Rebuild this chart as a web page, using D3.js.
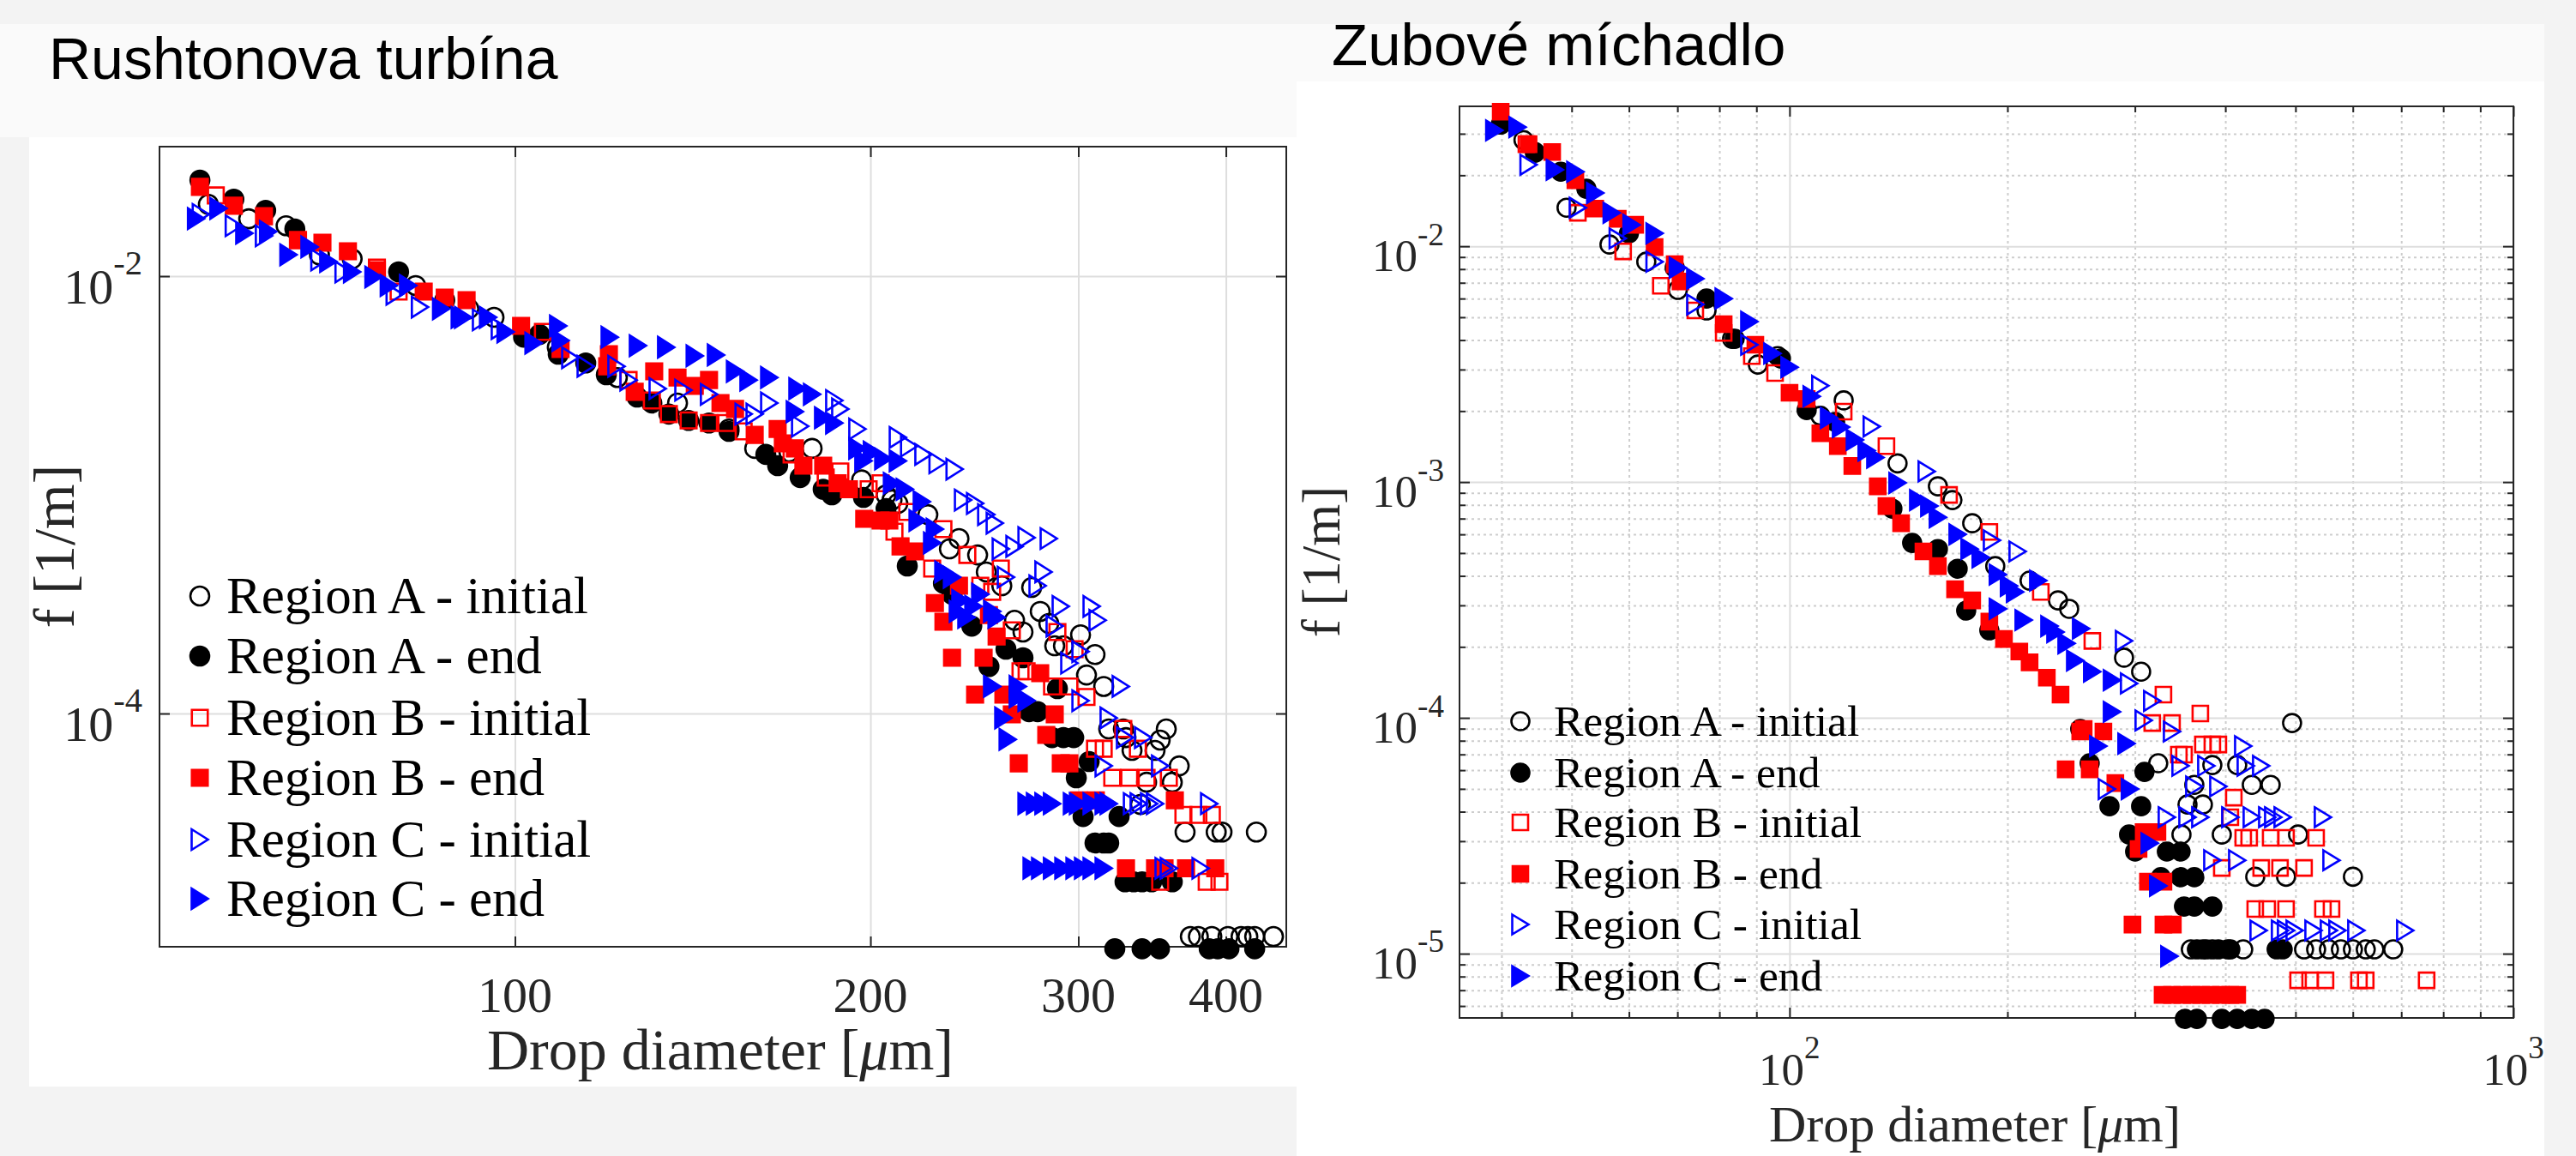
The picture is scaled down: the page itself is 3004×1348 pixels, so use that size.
<!DOCTYPE html>
<html><head><meta charset="utf-8">
<script src="https://cdn.jsdelivr.net/npm/d3@7/dist/d3.min.js"></script>
<style>body{margin:0;background:#f3f3f3}svg{display:block}</style>
</head><body>
<svg id="chart" width="3004" height="1348"></svg>
<script>
// ---------------- DATA ----------------
const panelTitles = ["Rushtonova turbína", "Zubové míchadlo"];
const seriesLabels = ["Region A - initial", "Region A - end", "Region B - initial", "Region B - end", "Region C - initial", "Region C - end"];
const xLabelMain = "Drop diameter [", xLabelMu = "\u03bc", xLabelEnd = "m]";
const yLabelText = "f [1/m]";
const rushtonXTicks = [100, 200, 300, 400];
const rushtonYTicks = [1e-2, 1e-4];
const zubXTicks = [100, 1000];
const zubYTicks = [1e-5, 1e-4, 1e-3, 1e-2];

// Rushtonova turbina: [diameter um, f 1/m]
const rushtonAInitial = [[55.0,0.0213],[59.5,0.0183],[64.0,0.0170],[68.3,0.0125],[72.8,0.0120],[82.4,0.00906],[91.4,0.00709],[96.0,0.00648],[108.6,0.00473],[122.1,0.00344],[137.3,0.00263],[151.8,0.00200],[159.6,0.00163],[170.6,0.00157],[178.5,0.00163],[196.6,0.00117],[206.2,0.00100],[208.6,9.47e-4],[211.0,9.13e-4],[223.7,8.12e-4],[233.3,5.66e-4],[237.7,6.31e-4],[246.5,5.31e-4],[250.7,4.44e-4],[258.4,3.84e-4],[264.9,2.67e-4],[269.3,2.36e-4],[273.9,3.77e-4],[278.5,2.93e-4],[283.2,2.58e-4],[286.5,2.04e-4],[291.4,2.04e-4],[301.3,2.29e-4],[304.8,1.50e-4],[309.9,1.86e-4],[315.2,1.33e-4],[318.3,8.50e-5],[327.5,8.50e-5],[329.2,7.76e-5],[333.1,6.78e-5],[338.6,3.84e-5],[342.7,4.85e-5],[348.4,6.78e-5],[351.9,7.56e-5],[356.1,8.50e-5],[360.3,4.85e-5],[365.2,5.76e-5],[369.4,2.87e-5],[392.5,2.87e-5],[397.0,2.87e-5],[424.5,2.87e-5],[373.2,9.56e-6],[379.1,9.56e-6],[389.2,9.56e-6],[401.6,9.56e-6],[412.0,9.56e-6],[417.5,9.56e-6],[423.1,9.56e-6],[438.9,9.56e-6]];
const rushtonAEnd = [[54.1,0.0275],[57.8,0.0225],[61.5,0.0200],[65.1,0.01644],[79.7,0.01046],[87.2,0.00777],[101.7,0.00526],[104.9,0.00541],[108.8,0.00440],[114.8,0.00401],[119.5,0.00354],[126.9,0.00280],[130.6,0.00263],[135.0,0.00234],[140.3,0.00219],[146.0,0.00213],[151.8,0.00195],[163.1,0.00153],[166.9,0.00136],[174.4,0.00120],[182.4,0.00106],[185.5,0.00100],[197.3,9.73e-4],[206.2,8.65e-4],[214.9,4.73e-4],[230.6,3.94e-4],[234.5,3.51e-4],[243.7,2.51e-4],[252.0,1.64e-4],[260.5,1.97e-4],[269.3,1.80e-4],[272.5,1.02e-4],[277.1,1.02e-4],[285.0,7.76e-5],[288.0,1.30e-4],[291.4,7.76e-5],[297.3,7.76e-5],[298.8,5.08e-5],[302.8,3.38e-5],[306.4,6.03e-5],[309.9,2.56e-5],[315.2,2.56e-5],[318.3,2.56e-5],[324.8,3.38e-5],[328.6,1.70e-5],[334.2,1.70e-5],[339.7,1.70e-5],[346.1,1.70e-5],[360.3,1.70e-5],[322.1,8.4e-6],[339.7,8.4e-6],[351.4,8.4e-6],[387.2,8.4e-6],[393.7,8.4e-6],[402.4,8.4e-6],[423.1,8.4e-6]];
const rushtonBInitial = [[55.8,0.0234],[65.5,0.01462],[76.4,0.01094],[79.7,0.00850],[105.6,0.00556],[124.8,0.00335],[130.6,0.00270],[135.0,0.00234],[140.3,0.00219],[146.0,0.00213],[151.0,0.00213],[156.2,0.00195],[171.5,0.00153],[183.3,0.00120],[188.6,0.00128],[199.3,0.00106],[204.0,0.00113],[209.6,6.78e-4],[214.9,8.35e-4],[225.6,4.60e-4],[230.6,6.97e-4],[241.6,5.31e-4],[247.8,3.84e-4],[253.6,3.60e-4],[257.9,4.60e-4],[263.5,2.40e-4],[268.0,1.56e-4],[271.2,1.56e-4],[285.0,1.33e-4],[288.0,2.36e-4],[294.8,1.33e-4],[297.8,1.97e-4],[304.8,1.19e-4],[309.9,6.90e-5],[315.2,6.90e-5],[320.5,5.08e-5],[327.5,8.50e-5],[331.3,5.08e-5],[336.9,6.90e-5],[342.7,5.08e-5],[351.9,1.70e-5],[357.9,5.08e-5],[368.2,3.44e-5],[379.1,3.44e-5],[385.3,1.70e-5],[389.2,3.44e-5],[395.0,1.70e-5]];
const rushtonBEnd = [[54.1,0.0256],[57.8,0.0210],[61.3,0.0188],[65.5,0.01462],[68.7,0.01422],[72.2,0.01299],[76.4,0.01065],[83.7,0.00850],[87.2,0.00798],[91.0,0.00777],[101.2,0.00592],[109.3,0.00464],[119.7,0.00387],[120.1,0.00440],[126.3,0.00296],[131.2,0.00367],[137.3,0.00344],[142.0,0.00315],[146.0,0.00335],[149.3,0.00263],[153.6,0.00247],[159.6,0.00188],[166.9,0.00200],[168.6,0.00172],[172.6,0.00163],[175.5,0.00136],[182.4,0.00136],[187.6,0.00113],[191.8,0.00106],[197.6,7.77e-4],[204.0,7.63e-4],[207.5,7.63e-4],[212.1,5.81e-4],[218.2,5.51e-4],[226.8,3.20e-4],[230.6,2.63e-4],[234.5,1.80e-4],[237.7,3.84e-4],[245.3,1.22e-4],[249.4,1.80e-4],[252.0,2.82e-4],[255.8,2.25e-4],[259.2,1.22e-4],[263.5,9.91e-5],[267.1,5.92e-5],[278.5,1.53e-4],[281.8,7.98e-5],[286.5,9.91e-5],[289.9,5.92e-5],[294.8,5.92e-5],[300.3,4.01e-5],[310.4,4.01e-5],[362.1,4.01e-5],[329.2,1.96e-5],[348.4,1.96e-5],[354.9,1.96e-5],[370.1,1.96e-5],[391.8,1.96e-5]];
const rushtonCInitial = [[54.2,0.01916],[57.8,0.0170],[61.3,0.01529],[68.3,0.01187],[71.6,0.01046],[79.1,0.00827],[83.1,0.00722],[90.4,0.00648],[93.6,0.00631],[97.1,0.00576],[111.4,0.00424],[114.8,0.00387],[121.9,0.00387],[124.8,0.00335],[132.1,0.00306],[138.9,0.00301],[146.0,0.00288],[156.2,0.00234],[159.6,0.00234],[164.2,0.00263],[174.4,0.00206],[186.4,0.00270],[188.6,0.00247],[195.0,0.00200],[211.0,0.00183],[215.7,0.00167],[221.8,0.00153],[228.0,0.00140],[235.7,0.00131],[239.6,9.47e-4],[245.3,9.13e-4],[250.7,8.12e-4],[254.9,7.42e-4],[257.9,5.66e-4],[260.5,4.20e-4],[264.9,5.81e-4],[271.2,6.37e-4],[277.1,3.84e-4],[280.3,4.44e-4],[283.2,6.31e-4],[286.5,2.51e-4],[289.9,3.09e-4],[294.8,1.70e-4],[301.3,1.92e-4],[301.3,1.145e-4],[307.9,3.09e-4],[311.5,2.67e-4],[315.2,5.76e-5],[318.3,9.55e-5],[325.9,1.33e-4],[328.6,7.76e-5],[340.4,7.76e-5],[333.1,3.87e-5],[337.5,3.87e-5],[344.4,3.87e-5],[348.4,3.87e-5],[387.2,3.87e-5],[351.9,5.76e-5],[354.3,1.96e-5],[357.9,1.96e-5],[380.8,1.96e-5]];
const rushtonCEnd = [[53.7,0.01832],[56.1,0.0204],[59.0,0.01571],[61.8,0.01600],[64.3,0.01253],[67.0,0.01360],[69.5,0.01166],[72.8,0.01046],[75.9,0.00991],[78.2,0.00906],[81.2,0.00906],[86.6,0.00709],[89.8,0.00648],[94.9,0.00648],[98.2,0.00556],[103.7,0.00494],[108.8,0.00592],[109.3,0.00508],[120.3,0.00526],[127.1,0.00481],[134.3,0.00473],[142.0,0.00432],[148.0,0.00436],[153.6,0.00367],[157.7,0.00335],[164.2,0.00344],[172.6,0.00240],[173.5,0.00306],[178.5,0.00288],[182.4,0.00225],[186.4,0.00213],[195.0,0.00163],[197.3,0.00143],[200.6,0.00157],[205.1,0.00146],[208.6,0.00113],[211.0,0.00143],[213.9,0.00106],[219.3,7.63e-4],[221.1,9.30e-4],[225.6,6.03e-4],[226.8,6.97e-4],[230.6,4.44e-4],[234.5,4.20e-4],[237.2,2.93e-4],[238.4,3.29e-4],[241.2,2.75e-4],[244.5,3.09e-4],[247.8,3.51e-4],[253.6,2.93e-4],[255.8,2.75e-4],[253.6,1.33e-4],[259.2,9.55e-5],[261.4,7.62e-5],[266.6,1.33e-4],[266.6,1.19e-4],[271.2,1.145e-4],[271.2,3.87e-5],[275.7,3.87e-5],[280.3,3.87e-5],[285.0,3.87e-5],[296.3,3.87e-5],[299.8,3.87e-5],[307.9,3.87e-5],[315.2,3.87e-5],[318.3,3.87e-5],[273.9,1.96e-5],[278.5,1.96e-5],[285.0,1.96e-5],[291.4,1.96e-5],[297.8,1.96e-5],[302.8,1.96e-5],[307.9,1.96e-5],[315.2,1.96e-5]];

// Zubove michadlo: [diameter um, f 1/m]
const zubAInitial = [[42.9,0.0282],[44.5,0.0249],[49.2,0.01457],[56.4,0.01017],[63.4,0.00860],[70.1,0.00653],[76.8,0.00534],[83.3,0.00405],[90.4,0.00315],[96.3,0.00342],[110.3,0.00191],[118.8,0.00222],[141.0,0.00120],[160.3,9.59e-4],[167.9,8.39e-4],[178.8,6.69e-4],[192.4,4.40e-4],[214.6,3.82e-4],[234.9,3.15e-4],[243.4,2.90e-4],[289.8,1.80e-4],[306.0,1.57e-4],[323.1,6.42e-5],[383.8,6.31e-5],[415.4,6.31e-5],[435.1,5.20e-5],[462.0,5.20e-5],[362.4,5.20e-5],[354.6,4.29e-5],[372.4,4.29e-5],[347.9,3.20e-5],[395.5,3.20e-5],[504.1,3.20e-5],[494.6,9.51e-5],[439.9,2.12e-5],[485.2,2.12e-5],[600.2,2.12e-5],[358.4,1.043e-5],[372.4,1.043e-5],[383.8,1.043e-5],[403.1,1.043e-5],[423.4,1.043e-5],[513.8,1.043e-5],[533.9,1.043e-5],[556.1,1.043e-5],[577.7,1.043e-5],[600.2,1.043e-5],[625.2,1.043e-5],[642.6,1.043e-5],[682.3,1.043e-5]];
const zubAEnd = [[39.9,0.0328],[44.5,0.0251],[48.3,0.0207],[52.4,0.01753],[60.0,0.01134],[69.4,0.00811],[76.8,0.00600],[84.0,0.00405],[97.3,0.00334],[105.6,0.00202],[115.6,0.00180],[138.7,7.71e-4],[147.7,5.52e-4],[160.3,5.20e-4],[170.7,4.29e-4],[175.4,2.85e-4],[188.8,2.35e-4],[252.1,8.97e-5],[259.8,6.42e-5],[276.7,4.22e-5],[294.5,3.20e-5],[306.0,4.22e-5],[309.3,5.90e-5],[300.2,2.71e-5],[332.1,2.71e-5],[346.9,2.71e-5],[325.8,2.11e-5],[346.9,2.11e-5],[362.4,2.11e-5],[350.7,1.585e-5],[362.4,1.585e-5],[383.8,1.585e-5],[365.4,1.043e-5],[376.5,1.043e-5],[391.2,1.043e-5],[406.4,1.043e-5],[470.9,1.043e-5],[480.0,1.043e-5],[351.7,5.29e-6],[365.4,5.29e-6],[395.5,5.29e-6],[415.4,5.29e-6],[435.1,5.29e-6],[453.2,5.29e-6]];
const zubBInitial = [[43.3,0.0271],[51.0,0.01386],[58.9,0.00951],[66.4,0.00680],[74.1,0.00534],[81.1,0.00429],[88.7,0.00342],[95.5,0.00290],[118.8,0.00199],[136.1,0.00142],[166.1,8.82e-4],[188.8,6.15e-4],[222.4,3.42e-4],[262.0,2.12e-4],[328.5,1.254e-4],[317.0,9.51e-5],[337.6,9.51e-5],[350.7,6.98e-5],[369.4,1.043e-4],[372.4,7.71e-5],[383.8,7.71e-5],[391.2,7.71e-5],[345.0,6.98e-5],[410.9,4.59e-5],[406.4,3.79e-5],[423.4,3.10e-5],[431.5,3.10e-5],[462.0,3.10e-5],[485.2,3.10e-5],[533.9,3.10e-5],[395.5,2.31e-5],[448.3,2.31e-5],[476.0,2.31e-5],[513.8,2.31e-5],[439.9,1.546e-5],[457.0,1.546e-5],[485.2,1.546e-5],[545.6,1.546e-5],[560.7,1.546e-5],[504.1,7.71e-6],[523.8,7.71e-6],[550.1,7.71e-6],[611.8,7.71e-6],[625.2,7.71e-6],[758.8,7.71e-6]];
const zubBEnd = [[39.9,0.0372],[43.6,0.0271],[47.0,0.0251],[50.6,0.01906],[53.9,0.01445],[57.9,0.01307],[61.2,0.01233],[65.1,0.00992],[69.4,0.00839],[70.7,0.00709],[81.1,0.00467],[89.7,0.00382],[100.0,0.00239],[105.6,0.00225],[110.3,0.00161],[116.6,0.00142],[122.1,0.00117],[132.4,9.59e-4],[136.1,7.91e-4],[142.6,6.69e-4],[153.1,5.08e-4],[160.3,4.40e-4],[169.3,3.51e-4],[178.8,3.15e-4],[188.8,2.56e-4],[197.8,2.16e-4],[207.7,1.91e-4],[214.6,1.72e-4],[226.7,1.48e-4],[236.8,1.254e-4],[254.9,8.97e-5],[271.4,8.75e-5],[240.7,6.05e-5],[259.8,6.05e-5],[281.9,5.29e-5],[252.1,8.75e-5],[308.5,3.28e-5],[322.3,3.28e-5],[303.5,2.78e-5],[312.7,2.02e-5],[328.5,2.02e-5],[297.7,1.329e-5],[328.5,1.329e-5],[338.5,1.329e-5],[327.6,6.69e-6],[337.6,6.69e-6],[348.8,6.69e-6],[359.4,6.69e-6],[370.4,6.69e-6],[381.7,6.69e-6],[394.4,6.69e-6],[406.4,6.69e-6],[415.4,6.69e-6]];
const zubCInitial = [[43.6,0.02216],[51.0,0.01457],[57.9,0.01079],[65.1,0.00860],[74.1,0.00566],[88.0,0.00382],[110.3,0.00256],[129.9,0.00172],[154.7,0.00111],[190.4,5.66e-4],[206.6,5.08e-4],[289.8,2.12e-4],[294.5,1.40e-4],[317.0,1.18e-4],[308.5,9.75e-5],[337.6,8.75e-5],[274.4,4.99e-5],[346.9,6.26e-5],[332.1,3.79e-5],[376.5,6.26e-5],[423.4,7.59e-5],[426.9,6.26e-5],[448.3,6.26e-5],[362.4,5.12e-5],[391.2,5.12e-5],[354.6,3.79e-5],[369.4,3.79e-5],[406.4,3.79e-5],[435.1,3.79e-5],[457.0,3.79e-5],[465.8,3.79e-5],[480.0,3.79e-5],[545.6,3.79e-5],[383.8,2.49e-5],[415.4,2.49e-5],[560.7,2.49e-5],[444.7,1.254e-5],[476.0,1.254e-5],[485.2,1.254e-5],[498.7,1.254e-5],[529.5,1.254e-5],[556.1,1.254e-5],[571.4,1.254e-5],[606.8,1.254e-5],[708.9,1.254e-5]];
const zubCEnd = [[39.1,0.0310],[42.1,0.0320],[47.4,0.0211],[50.6,0.0207],[53.9,0.01681],[56.8,0.01386],[60.5,0.01233],[65.1,0.01134],[70.1,0.00811],[74.1,0.00728],[81.1,0.00600],[88.0,0.00479],[94.7,0.00351],[100.0,0.00307],[107.3,0.00231],[113.4,0.00187],[117.8,0.00171],[123.1,0.00151],[127.8,0.00136],[131.4,0.00127],[141.0,9.92e-4],[150.6,8.39e-4],[156.0,7.91e-4],[160.3,7.09e-4],[170.7,6.00e-4],[177.3,5.20e-4],[183.7,4.79e-4],[194.0,4.05e-4],[201.0,3.63e-4],[204.9,3.42e-4],[220.6,3.82e-4],[210.6,2.60e-4],[228.6,2.45e-4],[194.0,2.90e-4],[233.0,2.31e-4],[241.4,2.07e-4],[248.1,1.75e-4],[252.8,2.39e-4],[261.9,1.57e-4],[278.9,1.445e-4],[278.9,1.061e-4],[267.0,7.59e-5],[292.1,7.78e-5],[295.3,4.99e-5],[314.5,2.94e-5],[323.1,1.94e-5],[334.8,9.75e-6]];

// ---------------- DRAWING ----------------
const svg = d3.select("#chart");
const AX = "#262626";
const SERIF = "'Liberation Serif','Times New Roman',serif";
const SANS = "'Liberation Sans',Arial,sans-serif";
const styles = [
  {shape:"circle", color:"#000000", filled:false},
  {shape:"circle", color:"#000000", filled:true},
  {shape:"square", color:"#ff0000", filled:false},
  {shape:"square", color:"#ff0000", filled:true},
  {shape:"tri", color:"#0000ff", filled:false},
  {shape:"tri", color:"#0000ff", filled:true}
];

// slide backgrounds
svg.append("rect").attr("x",0).attr("y",0).attr("width",3004).attr("height",1348).attr("fill","#f3f3f3");
svg.append("rect").attr("x",0).attr("y",28).attr("width",2967).attr("height",132).attr("fill","#fafafa");
svg.append("rect").attr("x",34).attr("y",160).attr("width",1478).attr("height",1107).attr("fill","#ffffff");
svg.append("rect").attr("x",1512).attr("y",95).attr("width",1455).attr("height",1253).attr("fill","#ffffff");

svg.append("text").attr("x",57).attr("y",92).attr("font-family",SANS).attr("font-size",68).attr("fill","#000").text(panelTitles[0]);
svg.append("text").attr("x",1553).attr("y",76).attr("font-family",SANS).attr("font-size",69).attr("fill","#000").text(panelTitles[1]);

function markerPath(shape, sz) {
  if (shape === "circle") return d3.symbol(d3.symbolCircle, Math.PI * (sz.c/2) * (sz.c/2))();
  if (shape === "square") return d3.symbol(d3.symbolSquare, sz.s * sz.s)();
  const w = sz.tw, h = sz.th;
  return `M${-w/2},${-h/2}L${w/2},0L${-w/2},${h/2}Z`;
}

function supLabel(g, x, y, anchor, base, sup, fs) {
  const t = g.append("text").attr("x",x).attr("y",y).attr("text-anchor",anchor)
    .attr("font-family",SERIF).attr("font-size",fs).attr("fill",AX);
  t.append("tspan").text(base);
  t.append("tspan").attr("dy",-0.58*fs).attr("font-size",0.7*fs).text(sup);
}

function drawPanel(cfg) {
  const x = d3.scaleLog().domain(cfg.xDomain).range(cfg.xRange);
  const y = d3.scaleLog().domain(cfg.yDomain).range(cfg.yRange);
  const [x0,x1] = cfg.xRange, y1 = cfg.yRange[0], y0 = cfg.yRange[1];
  const W = x1-x0, H = y1-y0;
  const g = svg.append("g");
  const styleGrid = (sel, color, dash) => { sel.select(".domain").remove(); sel.selectAll("text").remove();
    sel.selectAll("line").attr("stroke",color).attr("stroke-width",2).attr("stroke-dasharray",dash); };
  if (cfg.xMinor) {
    g.append("g").attr("transform",`translate(0,${y1})`).call(d3.axisBottom(x).tickValues(cfg.xMinor).tickSize(-H).tickFormat(""))
      .call(s => styleGrid(s,"#cdcdcd","3,4"));
    g.append("g").attr("transform",`translate(${x0},0)`).call(d3.axisLeft(y).tickValues(cfg.yMinor).tickSize(-W).tickFormat(""))
      .call(s => styleGrid(s,"#cdcdcd","3,4"));
  }
  g.append("g").attr("transform",`translate(0,${y1})`).call(d3.axisBottom(x).tickValues(cfg.xTicks).tickSize(-H).tickFormat(""))
    .call(s => styleGrid(s,"#dedede",null));
  g.append("g").attr("transform",`translate(${x0},0)`).call(d3.axisLeft(y).tickValues(cfg.yTicks).tickSize(-W).tickFormat(""))
    .call(s => styleGrid(s,"#dedede",null));
  g.append("rect").attr("x",x0).attr("y",y0).attr("width",W).attr("height",H).attr("fill","none").attr("stroke",AX).attr("stroke-width",2);
  const tickStyle = sel => { sel.select(".domain").remove(); sel.selectAll("text").remove(); sel.selectAll("line").attr("stroke",AX).attr("stroke-width",2); };
  const addTicks = (vals, len, yvals) => {
    g.append("g").attr("transform",`translate(0,${y1})`).call(d3.axisBottom(x).tickValues(vals).tickSize(-len)).call(tickStyle);
    g.append("g").attr("transform",`translate(0,${y0})`).call(d3.axisTop(x).tickValues(vals).tickSize(-len)).call(tickStyle);
    g.append("g").attr("transform",`translate(${x0},0)`).call(d3.axisLeft(y).tickValues(yvals).tickSize(-len)).call(tickStyle);
    g.append("g").attr("transform",`translate(${x1},0)`).call(d3.axisRight(y).tickValues(yvals).tickSize(-len)).call(tickStyle);
  };
  addTicks(cfg.xTicks, 12, cfg.yTicks);
  if (cfg.xMinor) addTicks(cfg.xMinor, 7, cfg.yMinor);

  cfg.xTicks.forEach(v => {
    if (cfg.xPow) supLabel(g, x(v), cfg.xLabelY, "middle", "10", String(Math.round(Math.log10(v))), cfg.tickFs);
    else g.append("text").attr("x",x(v)).attr("y",cfg.xLabelY).attr("text-anchor","middle").attr("font-family",SERIF)
      .attr("font-size",cfg.tickFs).attr("fill",AX).text(v);
  });
  cfg.yTicks.forEach(v => {
    supLabel(g, cfg.yLabelX, y(v) + 0.55*cfg.tickFs, "end", "10", String(Math.round(Math.log10(v))), cfg.tickFs);
  });
  const xt = g.append("text").attr("x",cfg.xTitle[0]).attr("y",cfg.xTitle[1]).attr("text-anchor","middle")
    .attr("font-family",SERIF).attr("font-size",cfg.titleFs).attr("fill",AX);
  xt.append("tspan").text(xLabelMain);
  xt.append("tspan").attr("font-style","italic").text(xLabelMu);
  xt.append("tspan").text(xLabelEnd);
  g.append("text").attr("transform",`translate(${cfg.yTitle[0]},${cfg.yTitle[1]}) rotate(-90)`).attr("text-anchor","middle")
    .attr("font-family",SERIF).attr("font-size",cfg.yTitleFs).attr("fill",AX).text(yLabelText);

  cfg.series.forEach((data, i) => {
    const st = styles[i];
    g.append("g").selectAll("path").data(data).join("path")
      .attr("transform", d => `translate(${x(d[0])},${y(d[1])})`)
      .attr("d", markerPath(st.shape, cfg.mk))
      .attr("fill", st.filled ? st.color : "none")
      .attr("stroke", st.color).attr("stroke-width", 2.6);
  });

  const lg = g.append("g");
  seriesLabels.forEach((lab, i) => {
    const st = styles[i];
    const ly = cfg.legend.rows[i];
    lg.append("path").attr("transform",`translate(${cfg.legend.mx},${ly})`).attr("d", markerPath(st.shape, cfg.mk))
      .attr("fill", st.filled ? st.color : "none").attr("stroke", st.color).attr("stroke-width", 2.6);
    lg.append("text").attr("x",cfg.legend.tx).attr("y",ly + 0.33*cfg.legend.fs).attr("font-family",SERIF)
      .attr("font-size",cfg.legend.fs).attr("fill","#000").text(lab);
  });
}

const zubXMinor = [40,50,60,70,80,90,200,300,400,500,600,700,800,900];
const zubYMinor = [6e-6,7e-6,8e-6,9e-6,2e-5,3e-5,4e-5,5e-5,6e-5,7e-5,8e-5,9e-5,2e-4,3e-4,4e-4,5e-4,6e-4,7e-4,8e-4,9e-4,2e-3,3e-3,4e-3,5e-3,6e-3,7e-3,8e-3,9e-3,2e-2,3e-2];

drawPanel({
  xDomain:[50,450], xRange:[186,1500], yDomain:[8.58e-6,0.0391], yRange:[1104,171],
  xTicks:rushtonXTicks, yTicks:rushtonYTicks, xPow:false, tickFs:58, xLabelY:1180, yLabelX:166,
  titleFs:68, yTitleFs:68, xTitle:[840,1247], yTitle:[86,637],
  mk:{c:22, s:18.5, tw:19, th:24},
  series:[rushtonAInitial, rushtonAEnd, rushtonBInitial, rushtonBEnd, rushtonCInitial, rushtonCEnd],
  legend:{mx:233, tx:264, fs:61, rows:[695,765,837,907,979,1048]}
});
drawPanel({
  xDomain:[35,1000], xRange:[1702,2931], yDomain:[5.34e-6,0.0392], yRange:[1187,124],
  xTicks:zubXTicks, yTicks:zubYTicks, xMinor:zubXMinor, yMinor:zubYMinor, xPow:true, tickFs:53, xLabelY:1265, yLabelX:1684,
  titleFs:60, yTitleFs:63, xTitle:[2303,1331], yTitle:[1562,655],
  mk:{c:21, s:18, tw:19, th:23},
  series:[zubAInitial, zubAEnd, zubBInitial, zubBEnd, zubCInitial, zubCEnd],
  legend:{mx:1773, tx:1812, fs:51.5, rows:[841,901,959,1019,1078,1138]}
});
</script>
</body></html>
